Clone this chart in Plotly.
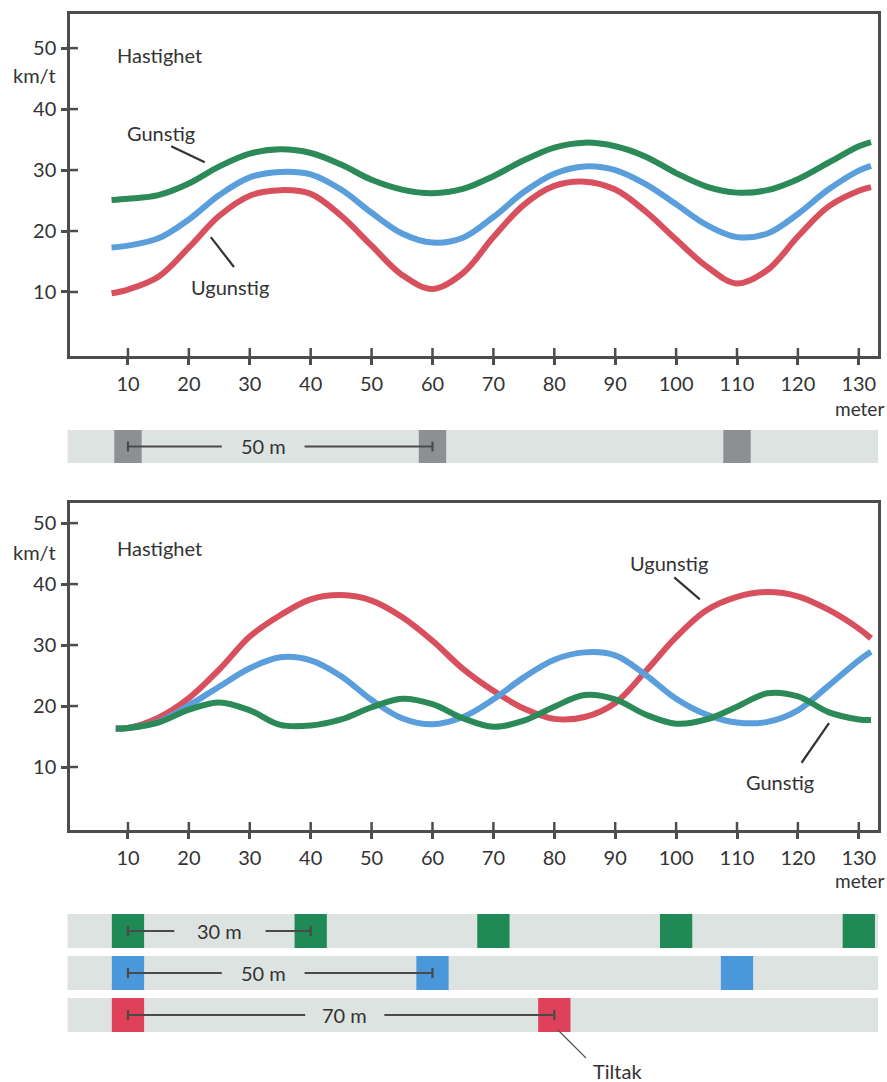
import plotly.graph_objects as go

W, H = 887, 1082
FONT = "Lato"
INK = "#333333"
AXIS = "#4d4d4d"

GREEN = "#2b8a57"
BLUE = "#5a9fdb"
RED = "#d8505e"
STRIP_BG = "#dde3e0"
BLOCK_GRAY = "#8c9092"
BLOCK_GREEN = "#1f8a55"
BLOCK_BLUE = "#4a98dc"
BLOCK_RED = "#e0415a"

# ---- upper chart: speed along the street, humps every 50 m ----
top_x = [7.3, 10, 15, 20, 25, 30, 35, 40, 45, 50, 55, 60, 65, 70, 75, 80, 85,
         90, 95, 100, 105, 110, 115, 120, 125, 130, 132]
top_gunstig = [25.1, 25.3, 25.9, 27.8, 30.6, 32.7, 33.4, 32.8, 30.9, 28.4, 26.8,
               26.2, 26.9, 29.0, 31.6, 33.7, 34.5, 33.9, 32.2, 29.5, 27.3, 26.3,
               26.7, 28.5, 31.2, 33.9, 34.6]
top_middels = [17.3, 17.6, 18.8, 21.9, 25.9, 28.8, 29.7, 29.3, 26.8, 23.0, 19.6,
               18.1, 18.9, 22.3, 26.4, 29.4, 30.6, 30.0, 27.7, 24.4, 21.0, 19.0,
               19.6, 22.8, 26.8, 29.9, 30.7]
top_ugunstig = [9.8, 10.4, 12.5, 17.3, 22.5, 25.8, 26.7, 26.1, 22.5, 17.6, 12.8,
                10.5, 13.1, 19.0, 24.3, 27.4, 28.1, 26.8, 23.2, 18.6, 14.2, 11.4,
                13.6, 19.1, 24.0, 26.6, 27.2]

# ---- lower chart: humps every 30, 50 and 70 m ----
bot_x = [8, 10, 15, 20, 25, 30, 35, 40, 45, 50, 55, 60, 65, 70, 75, 80, 85, 90,
         95, 100, 105, 110, 115, 120, 125, 130, 132]
bot_ugunstig = [16.3, 16.4, 18.1, 21.3, 26.0, 31.4, 34.9, 37.5, 38.2, 37.3, 34.6,
                30.7, 26.1, 22.5, 19.6, 17.9, 18.2, 20.5, 25.7, 31.3, 35.7, 37.9,
                38.7, 38.0, 35.8, 32.7, 31.1]
bot_middels = [16.3, 16.4, 17.4, 20.1, 23.2, 26.2, 28.0, 27.5, 24.9, 21.0, 18.0,
               17.0, 18.2, 21.1, 24.7, 27.6, 28.8, 28.3, 25.1, 21.2, 18.6, 17.3,
               17.4, 19.3, 23.3, 27.5, 28.9]
bot_gunstig = [16.3, 16.4, 17.3, 19.4, 20.6, 19.3, 16.9, 16.8, 17.8, 19.8, 21.2,
               20.3, 18.0, 16.6, 17.6, 19.9, 21.8, 21.1, 18.6, 17.1, 17.8, 19.9,
               22.1, 21.6, 19.0, 17.8, 17.7]

x_ticks = [10, 20, 30, 40, 50, 60, 70, 80, 90, 100, 110, 120, 130]
y_ticks = [10, 20, 30, 40, 50]

# hump positions (metres) in each strip
humps_50_top = [10, 60, 110]
humps_30 = [10, 40, 70, 100, 130]
humps_50 = [10, 60, 110]
humps_70 = [10, 80]

X_RANGE = [0.48, 133.15]
TOP_Y_RANGE = [-0.5, 55.6]
BOT_Y_RANGE = [-0.33, 53.3]

LABEL_SIZE = 20
TICK_SIZE = 20


def px_x(p):
    return p / W


def px_y(p):
    return 1 - p / H


fig = go.Figure()

line_w = 6
for xs, ys, col in [
    (top_x, top_ugunstig, RED),
    (top_x, top_middels, BLUE),
    (top_x, top_gunstig, GREEN),
]:
    fig.add_trace(go.Scatter(x=xs, y=ys, mode="lines", xaxis="x", yaxis="y",
                             line=dict(color=col, width=line_w, shape="spline",
                                       smoothing=1.0),
                             hoverinfo="skip", showlegend=False))

for xs, ys, col in [
    (bot_x, bot_ugunstig, RED),
    (bot_x, bot_middels, BLUE),
    (bot_x, bot_gunstig, GREEN),
]:
    fig.add_trace(go.Scatter(x=xs, y=ys, mode="lines", xaxis="x2", yaxis="y2",
                             line=dict(color=col, width=line_w, shape="spline",
                                       smoothing=1.0),
                             hoverinfo="skip", showlegend=False))

# hump strips drawn as bars on their own 0..1 axes
strips = [
    ("x", "y3", humps_50_top, BLOCK_GRAY, 4.5),
    ("x2", "y4", humps_30, BLOCK_GREEN, 5.3),
    ("x2", "y5", humps_50, BLOCK_BLUE, 5.3),
    ("x2", "y6", humps_70, BLOCK_RED, 5.3),
]
shapes = []
for xa, ya, pos, col, w in strips:
    fig.add_trace(go.Bar(x=pos, y=[1] * len(pos), base=0, width=w,
                         marker=dict(color=col, line=dict(width=0)),
                         xaxis=xa, yaxis=ya, hoverinfo="skip",
                         showlegend=False))
    shapes.append(dict(type="rect", xref=f"{xa} domain", yref=f"{ya} domain",
                       x0=-0.003, x1=1.0, y0=0, y1=1, fillcolor=STRIP_BG,
                       line=dict(width=0), layer="below"))

# dimension lines: (x-axis, y-axis, start, end, label, label centre, half gap)
dims = [
    ("x", "y3", 10, 60, "50 m", 32.2, 6.8),
    ("x2", "y4", 10, 40, "30 m", 25.1, 7.5),
    ("x2", "y5", 10, 60, "50 m", 32.2, 6.8),
    ("x2", "y6", 10, 80, "70 m", 45.6, 6.5),
]
annotations = []
DIM = "#4a4a4a"
for xa, ya, a, b, lab, lx, g in dims:
    for x0, x1 in [(a, lx - g), (lx + g, b)]:
        shapes.append(dict(type="line", xref=xa, yref=ya, x0=x0, x1=x1,
                           y0=0.5, y1=0.5, line=dict(color=DIM, width=2.2)))
    for xe in (a, b):
        shapes.append(dict(type="line", xref=xa, yref=ya, x0=xe, x1=xe,
                           y0=0.35, y1=0.65, line=dict(color=DIM, width=2.2)))
    annotations.append(dict(text=lab, xref=xa, yref=ya, x=lx, y=0.5,
                            showarrow=False, xanchor="center", yanchor="middle",
                            font=dict(family=FONT, size=LABEL_SIZE, color=INK)))

# tick marks crossing the axis line (inner half)
for xa, ya, yr in [("x", "y", TOP_Y_RANGE), ("x2", "y2", BOT_Y_RANGE)]:
    for t in x_ticks:
        shapes.append(dict(type="line", xref=xa, yref=ya, ysizemode="pixel",
                           yanchor=yr[0], x0=t, x1=t, y0=0, y1=8,
                           line=dict(color=AXIS, width=2.5)))
    for t in y_ticks:
        shapes.append(dict(type="line", xref=xa, yref=ya, xsizemode="pixel",
                           xanchor=X_RANGE[0], x0=0, x1=8, y0=t, y1=t,
                           line=dict(color=AXIS, width=2.5)))


def leader(xa, ya, p, q, width=2.2, color="#333333"):
    shapes.append(dict(type="line", xref=xa, yref=ya, x0=p[0], y0=p[1],
                       x1=q[0], y1=q[1], line=dict(color=color, width=width)))


def label(text, xa, ya, x, y, xanchor="center", size=LABEL_SIZE):
    annotations.append(dict(text=text, xref=xa, yref=ya, x=x, y=y,
                            showarrow=False, xanchor=xanchor, yanchor="middle",
                            font=dict(family=FONT, size=size, color=INK)))


# series labels with leader lines
label("Gunstig", "x", "y", 15.5, 36.1)
leader("x", "y", (17.1, 33.9), (22.6, 31.3))
label("Ugunstig", "x", "y", 26.7, 10.8)
leader("x", "y", (23.6, 19.0), (27.4, 14.1))
label("Hastighet", "x", "y", 7.9, 48.9, "left")

label("Hastighet", "x2", "y2", 7.9, 45.9, "left")
label("Ugunstig", "x2", "y2", 98.8, 43.4)
leader("x2", "y2", (99.7, 41.1), (103.9, 37.5))
label("Gunstig", "x2", "y2", 117.0, 7.5)
leader("x2", "y2", (120.6, 10.7), (125.1, 17.2))

# unit labels
for yp in (75, 552):
    label("km/t", "paper", "paper", px_x(11), px_y(yp), "left")
for yp in (408, 880):
    annotations.append(dict(text="meter", xref="paper", yref="paper",
                            x=px_x(886), y=px_y(yp), showarrow=False,
                            xanchor="right", yanchor="middle",
                            font=dict(family=FONT, size=19, color=INK)))

# "Tiltak" call-out under the 70 m strip
leader("x2", "paper", (80.6, px_y(1030)), (85.2, px_y(1058)), 1.2, "#555555")
label("Tiltak", "x2", "paper", 86.0, px_y(1071), "left")

axis_common = dict(showline=True, linecolor=AXIS, linewidth=2.5, mirror=True,
                   showgrid=False, zeroline=False, ticks="outside", ticklen=6,
                   tickwidth=2.5, tickcolor=AXIS,
                   tickfont=dict(family=FONT, size=TICK_SIZE, color=INK))

xdom = [px_x(70), px_x(878)]
fig.update_layout(
    width=W, height=H,
    margin=dict(l=0, r=0, t=0, b=0),
    paper_bgcolor="white", plot_bgcolor="rgba(0,0,0,0)",
    showlegend=False,
    xaxis=dict(domain=xdom, range=X_RANGE, anchor="y", tickvals=x_ticks,
               ticklabelstandoff=2, **axis_common),
    yaxis=dict(domain=[px_y(356), px_y(14)], range=TOP_Y_RANGE, anchor="x",
               tickvals=y_ticks, ticklabelstandoff=1, **axis_common),
    xaxis2=dict(domain=xdom, range=X_RANGE, anchor="y2", tickvals=x_ticks,
                ticklabelstandoff=2, **axis_common),
    yaxis2=dict(domain=[px_y(830), px_y(503)], range=BOT_Y_RANGE, anchor="x2",
                tickvals=y_ticks, ticklabelstandoff=1, **axis_common),
    yaxis3=dict(domain=[px_y(463), px_y(430)], range=[0, 1], anchor="x",
                visible=False),
    yaxis4=dict(domain=[px_y(948), px_y(914)], range=[0, 1], anchor="x2",
                visible=False),
    yaxis5=dict(domain=[px_y(990), px_y(956)], range=[0, 1], anchor="x2",
                visible=False),
    yaxis6=dict(domain=[px_y(1032), px_y(998)], range=[0, 1], anchor="x2",
                visible=False),
    shapes=shapes,
    annotations=annotations,
)

fig.write_html("out.html")
